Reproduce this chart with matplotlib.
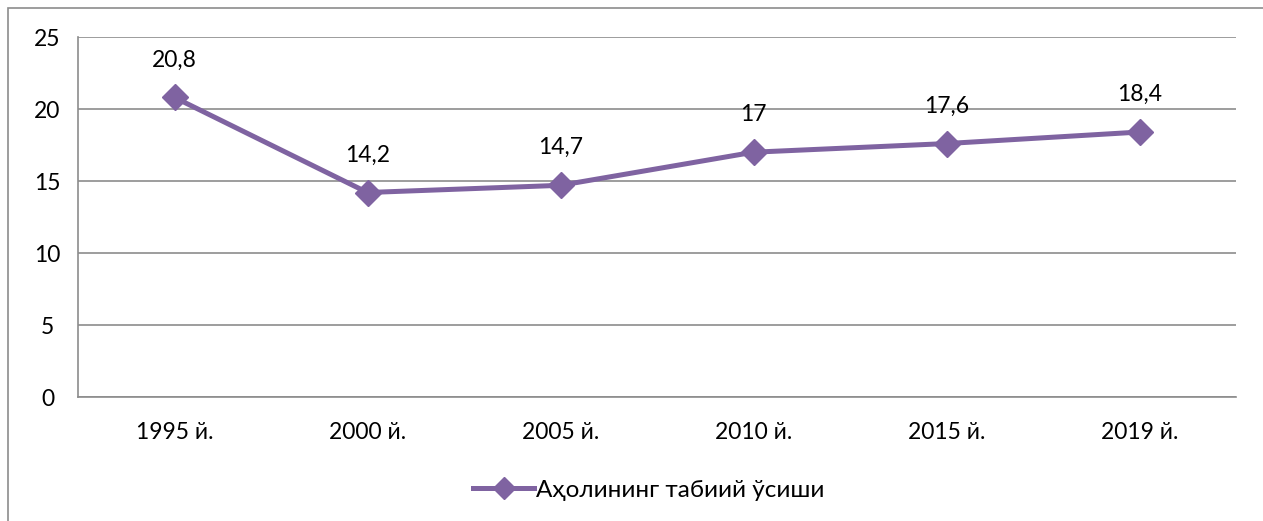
import matplotlib
matplotlib.use("Agg")
import matplotlib.pyplot as plt
from matplotlib.patches import Rectangle
from matplotlib.lines import Line2D

categories = ["1995 й.", "2000 й.", "2005 й.", "2010 й.", "2015 й.", "2019 й."]
values = [20.8, 14.2, 14.7, 17, 17.6, 18.4]
value_labels = ["20,8", "14,2", "14,7", "17", "17,6", "18,4"]
series_name = "Аҳолининг табиий ўсиши"
y_ticks = [0, 5, 10, 15, 20, 25]

plt.rcParams["font.family"] = ["Lato", "Open Sans", "Noto Sans", "DejaVu Sans"]
FS = 16.5

W, H = 1263, 521
fig = plt.figure(figsize=(W / 100, H / 100), dpi=100)

# chart-area frame (left and top edges visible)
fig.patches.append(Rectangle((8 / W, -0.1), 1.2, (H - 8) / H + 0.1,
                             transform=fig.transFigure, fill=False,
                             edgecolor="#8c8c8c", linewidth=1.2))

left, right, top, bottom = 78, 1236, 37, 397
ax = fig.add_axes([left / W, 1 - bottom / H, (right - left) / W, (bottom - top) / H])

purple = "#7f63a1"
x = list(range(len(categories)))
ax.plot(x, values, color=purple, linewidth=3.6, marker="D", markersize=13,
        markerfacecolor=purple, markeredgecolor=purple, solid_capstyle="round",
        label=series_name, zorder=3)

for xi, v, lab in zip(x, values, value_labels):
    ax.annotate(lab, (xi, v), xytext=(0, 27), textcoords="offset points",
                ha="center", va="center", fontsize=FS, color="black")

ax.set_xlim(-0.5, len(categories) - 0.5)
ax.set_ylim(0, 25)
ax.set_yticks(y_ticks)
ax.set_yticklabels([str(t) for t in y_ticks], fontsize=FS)
ax.set_xticks(x)
ax.set_xticklabels(categories, fontsize=FS)
ax.tick_params(axis="both", length=0)
ax.tick_params(axis="y", pad=22)
ax.tick_params(axis="x", pad=18)
for t in ax.get_yticklabels():
    t.set_horizontalalignment("center")

ax.grid(axis="y", color="#8c8c8c", linewidth=1.2)
ax.set_axisbelow(True)
for s in ["top", "right"]:
    ax.spines[s].set_visible(False)
ax.spines["left"].set_color("#8c8c8c")
ax.spines["left"].set_linewidth(1.2)
ax.spines["bottom"].set_color("#8c8c8c")
ax.spines["bottom"].set_linewidth(1.2)

handle = Line2D([], [], color=purple, linewidth=3.6, marker="D", markersize=11,
                markerfacecolor=purple, markeredgecolor=purple)
fig.legend([handle], [series_name], loc="center", bbox_to_anchor=(649 / W, 1 - 490 / H),
           frameon=False, fontsize=17.5, handlelength=2.5, handletextpad=0.1)

fig.savefig("out.png", dpi=100)
